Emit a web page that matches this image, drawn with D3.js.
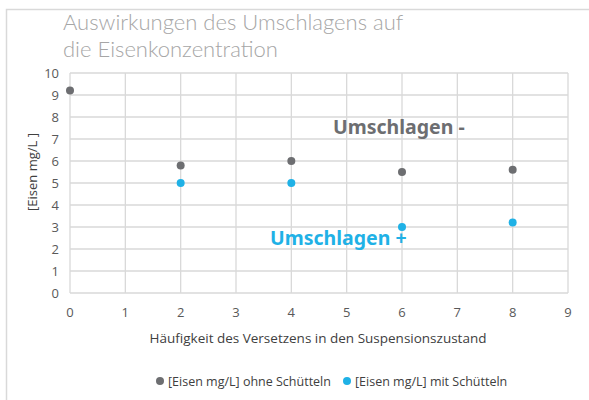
<!DOCTYPE html>
<html>
<head>
<meta charset="utf-8">
<script src="https://cdn.jsdelivr.net/npm/d3@7"></script>
<style>
  body { margin: 0; background: #fff; }
  text { font-family: "Open Sans", "Noto Sans", sans-serif; }
</style>
</head>
<body>
<svg id="chart" width="589" height="400"></svg>
<script>
// Daten
let xTicks = [0, 1, 2, 3, 4, 5, 6, 7, 8, 9];
let yTicks = [0, 1, 2, 3, 4, 5, 6, 7, 8, 9, 10];
let ohneX = [0, 2, 4, 6, 8];
let ohneY = [9.2, 5.8, 6.0, 5.5, 5.6];
let mitX = [2, 4, 6, 8];
let mitY = [5.0, 5.0, 3.0, 3.2];
let serien = ['[Eisen mg/L] ohne Schütteln', '[Eisen mg/L] mit Schütteln'];

let grau = '#6d6e71';
let blau = '#1fb1e6';

let svg = d3.select('#chart');

// Rahmen (links + oben)
svg.append('path')
  .attr('d', 'M6.5,400 L6.5,9.5 L589,9.5')
  .attr('fill', 'none')
  .attr('stroke', '#d9d9d9')
  .attr('stroke-width', 1.5);

let x = d3.scaleLinear().domain([0, 9]).range([70, 568]);
let y = d3.scaleLinear().domain([0, 10]).range([293, 73]);

// Gitter
let g = svg.append('g');
g.selectAll('line.h')
  .data(yTicks)
  .enter().append('line')
  .attr('x1', x(0)).attr('x2', x(9))
  .attr('y1', d => y(d)).attr('y2', d => y(d))
  .attr('stroke', '#d9d9d9').attr('stroke-width', 1.3);
g.selectAll('line.v')
  .data(xTicks)
  .enter().append('line')
  .attr('y1', y(0)).attr('y2', y(10))
  .attr('x1', d => x(d)).attr('x2', d => x(d))
  .attr('stroke', '#d9d9d9').attr('stroke-width', 1.3);

// Achsenbeschriftung
svg.selectAll('text.yt')
  .data(yTicks)
  .enter().append('text')
  .attr('x', 59).attr('y', d => y(d))
  .attr('dy', '0.35em')
  .attr('text-anchor', 'end')
  .attr('font-size', 13).attr('fill', '#595959')
  .text(d => d);
svg.selectAll('text.xt')
  .data(xTicks)
  .enter().append('text')
  .attr('x', d => x(d)).attr('y', 317)
  .attr('text-anchor', 'middle')
  .attr('font-size', 13).attr('fill', '#595959')
  .text(d => d);

svg.append('text')
  .attr('x', 318).attr('y', 343)
  .attr('text-anchor', 'middle')
  .attr('font-size', 13.5).attr('fill', '#404040')
  .text('Häufigkeit des Versetzens in den Suspensionszustand');
svg.append('text')
  .attr('transform', 'translate(37,172) rotate(-90)')
  .attr('text-anchor', 'middle')
  .attr('font-size', 13).attr('fill', '#404040')
  .text('[Eisen mg/L ]');

// Titel
let titel = svg.append('text')
  .attr('font-size', 22).attr('font-weight', 300)
  .attr('fill', '#a6a6a6')
  .style('font-family', 'Lato, "DejaVu Sans", sans-serif');
titel.append('tspan').attr('x', 63).attr('y', 30).text('Auswirkungen des Umschlagens auf');
titel.append('tspan').attr('x', 63).attr('y', 57).text('die Eisenkonzentration');

// Punkte
svg.selectAll('circle.ohne')
  .data(ohneX)
  .enter().append('circle')
  .attr('cx', d => x(d)).attr('cy', (d, i) => y(ohneY[i]))
  .attr('r', 4).attr('fill', grau);
svg.selectAll('circle.mit')
  .data(mitX)
  .enter().append('circle')
  .attr('cx', d => x(d)).attr('cy', (d, i) => y(mitY[i]))
  .attr('r', 4).attr('fill', blau);

// Anmerkungen
svg.append('text')
  .attr('x', 333).attr('y', 134)
  .attr('font-size', 19.5).attr('font-weight', 'bold')
  .attr('fill', grau)
  .style('font-family', '"Noto Sans", sans-serif')
  .text('Umschlagen -');
svg.append('text')
  .attr('x', 270).attr('y', 245)
  .attr('font-size', 19.5).attr('font-weight', 'bold')
  .attr('fill', blau)
  .style('font-family', '"Noto Sans", sans-serif')
  .text('Umschlagen +');

// Legende
let leg = [{ cx: 160, col: grau }, { cx: 347, col: blau }];
leg.forEach(function (l, i) {
  svg.append('circle').attr('cx', l.cx).attr('cy', 381).attr('r', 4).attr('fill', l.col);
  svg.append('text')
    .attr('x', l.cx + 8).attr('y', 385.5)
    .attr('font-size', 12.5).attr('fill', '#404040')
    .text(serien[i]);
});
</script>
</body>
</html>
